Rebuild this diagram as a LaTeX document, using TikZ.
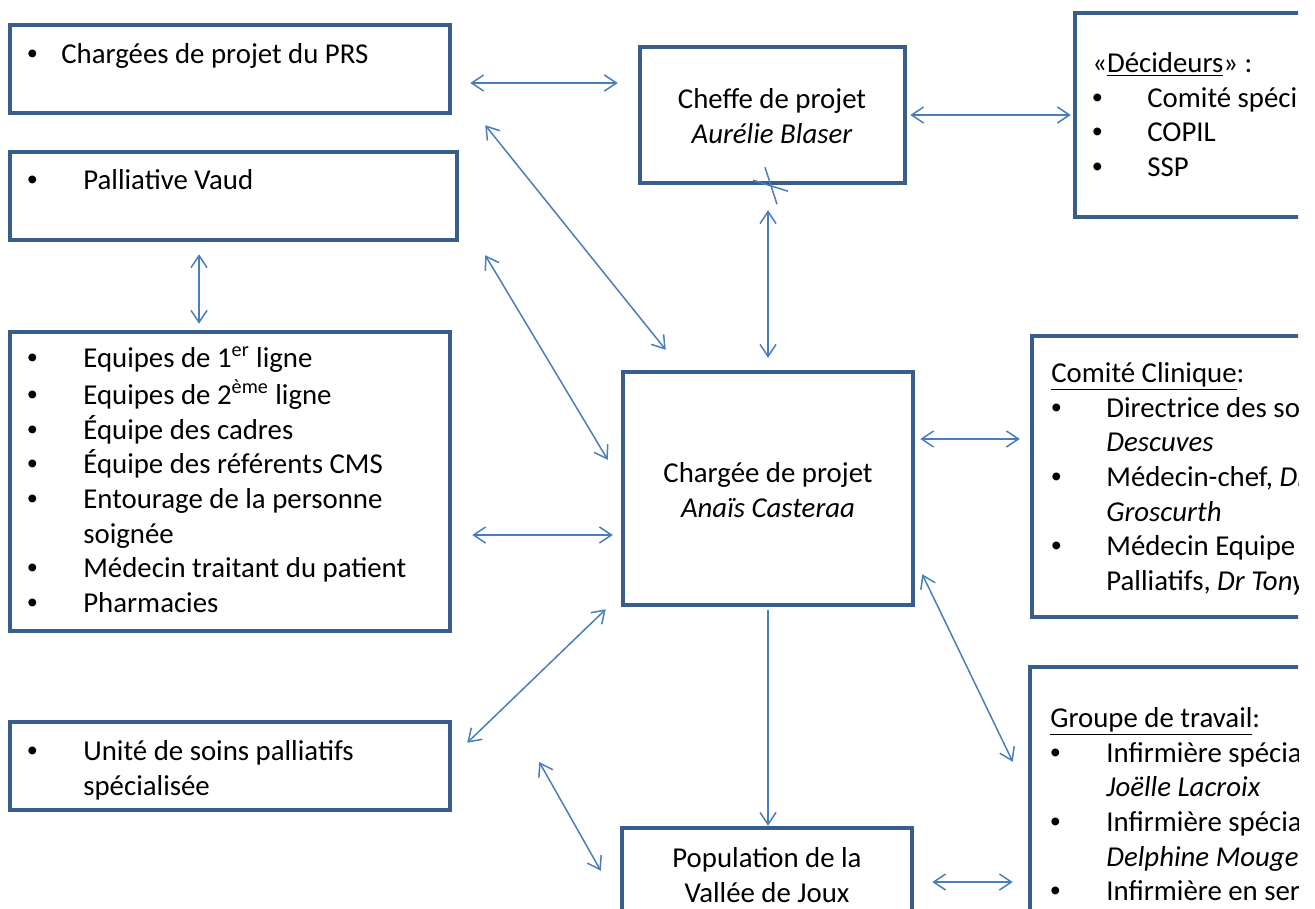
\documentclass[tikz,border=0pt]{standalone}
\usepackage{fontspec}
\setmainfont{Carlito}
\newfontfamily\bulfont{Liberation Sans}
\usepackage{tikz}
\usetikzlibrary{arrows.meta, fit}
\definecolor{myborder}{HTML}{385D8A}
\definecolor{myline}{HTML}{4A7EBB}
\newdimen\px
\px=0.02cm
\newcommand{\bul}[1]{\makebox[#1\px][l]{\bulfont\textbullet}}
\tikzset{
box/.style={
draw=myborder,
line width=0.09cm,
inner sep=0pt
},
txt/.style={
font=\fontsize{16.4}{19.75}\selectfont,
inner sep=0pt,
align=left,
anchor=north west,
yshift=13.825pt
},
ctxt/.style={
font=\fontsize{16.4}{19.75}\selectfont,
inner sep=0pt,
align=center,
anchor=north,
yshift=13.825pt
},
link/.style={
{Straight Barb[length=0.24cm,width=0.32cm]}-{Straight Barb[length=0.24cm,width=0.32cm]},
line width=0.03cm,
draw=myline
},
flow/.style={
-{Straight Barb[length=0.24cm,width=0.32cm]},
line width=0.03cm,
draw=myline
}
}
\begin{document}
\begin{tikzpicture}[x=0.02cm, y=-0.02cm]
\path[use as bounding box] (0,0) rectangle (1315,909);
\clip (0,0) rectangle (1298,909);

% left column
\node[box, fit={(10,25) (450,113)}] (prs) {};
\node[txt] (prstxt) at (27,63) {\strut\bul{34}Chargées de projet du PRS};
\node[box, fit={(10,152) (457,240)}] (pall) {};
\node[txt] (palltxt) at (27,189) {\strut\bul{56}Palliative Vaud};
\node[box, fit={(10,332) (450,631)}] (equip) {};
\node[txt] (equiptxt) at (27,367) {\strut\bul{56}Equipes de 1\textsuperscript{er} ligne\\
  \bul{56}Equipes de 2\textsuperscript{ème} ligne\\
  \bul{56}Équipe des cadres\\
  \bul{56}Équipe des référents CMS\\
  \bul{56}Entourage de la personne\\
  \hspace*{56\px}soignée\\
  \bul{56}Médecin traitant du patient\\
  \bul{56}Pharmacies};
\node[box, fit={(10,722) (450,810)}] (unite) {};
\node[txt] (unitetxt) at (27,760) {\strut\bul{56}Unité de soins palliatifs\\
  \hspace*{56\px}spécialisée};

% centre column
\node[box, fit={(640,47) (905,183)}] (cheffe) {};
\node[ctxt] (cheffetxt) at (772,108) {\strut Cheffe de projet\\ \textit{Aurélie Blaser}};
\node[box, fit={(623,372) (913,605)}] (charg) {};
\node[ctxt] (chargtxt) at (768,482) {\strut Chargée de projet\\ \textit{Anaïs Casteraa}};
\node[box, fit={(622,828) (912,960)}] (pop) {};
\node[ctxt] (poptxt) at (767,867) {\strut Population de la\\ Vallée de Joux};

% right column, cut by the page edge
\node[box, fit={(1075,13) (1340,217)}] (deci) {};
\node[txt] (decitxt) at (1092,72) {\strut«\underline{Décideurs}» :\\
  \bul{55}Comité spéci\\
  \bul{55}COPIL\\
  \bul{55}SSP};
\node[box, fit={(1032,336) (1340,617)}] (comite) {};
\node[txt] (comitetxt) at (1051,382) {\strut\underline{Comité Clinique}:\\
  \bul{55}Directrice des so\\
  \hspace*{55\px}\textit{Descuves}\\
  \bul{55}Médecin-chef, \textit{Dr}\\
  \hspace*{55\px}\textit{Groscurth}\\
  \bul{55}Médecin Equipe\\
  \hspace*{55\px}Palliatifs, \textit{Dr Tony}};
\node[box, fit={(1030,667) (1340,960)}] (groupe) {};
\node[txt] (groupetxt) at (1050,727) {\strut\underline{Groupe de travail}:\\
  \bul{56}Infirmière spécia\\
  \hspace*{56\px}\textit{Joëlle Lacroix}\\
  \bul{56}Infirmière spécia\\
  \hspace*{56\px}\textit{Delphine Mouger}\\
  \bul{56}Infirmière en ser};

% links
\draw[link] ([shift={(18,14)}]prs.east) -- ([shift={(-20,-32)}]cheffe.west);
\draw[link] ([shift={(3,0)}]cheffe.east) -- ([shift={(-2,0)}]deci.west);
\draw[link] ([shift={(-34.5,12)}]pall.south) -- ([shift={(-31,-6)}]equip.north);
\draw[link] ([shift={(33,10)}]prs.south east) -- ([shift={(45,-20)}]charg.north west);
\draw[link] ([shift={(26,13)}]pall.south east) -- ([shift={(-13,90)}]charg.north west);
\draw[link] ([shift={(-4.5,25)}]cheffe.south) -- ([shift={(0,-12)}]charg.north);
\draw[myline, line width=0.03cm] ([shift={(-19.5,-5)}]cheffe.south) -- ([shift={(15.5,6)}]cheffe.south);
\draw[myline, line width=0.03cm] ([shift={(-7.5,-18)}]cheffe.south) -- ([shift={(4.5,19)}]cheffe.south);
\draw[link] ([shift={(20,53.5)}]equip.east) -- ([shift={(-8,46.5)}]charg.west);
\draw[link] ([shift={(-15,2)}]charg.south west) -- ([shift={(15,23)}]unite.north east);
\draw[link] ([shift={(87,-4)}]unite.east) -- ([shift={(-19,45)}]pop.north west);
\draw[flow] ([shift={(0,3)}]charg.south) -- (charg.south |- pop.north);
\draw[link] ([shift={(5,-49.5)}]charg.east) -- ([shift={(-10,-37.5)}]comite.west);
\draw[link] ([shift={(7,-33)}]charg.south east) -- ([shift={(-15,97)}]groupe.north west);
\draw[link] ([shift={(18,-12)}]pop.east) -- ([shift={(-15,68.5)}]groupe.west);

\end{tikzpicture}
\end{document}
